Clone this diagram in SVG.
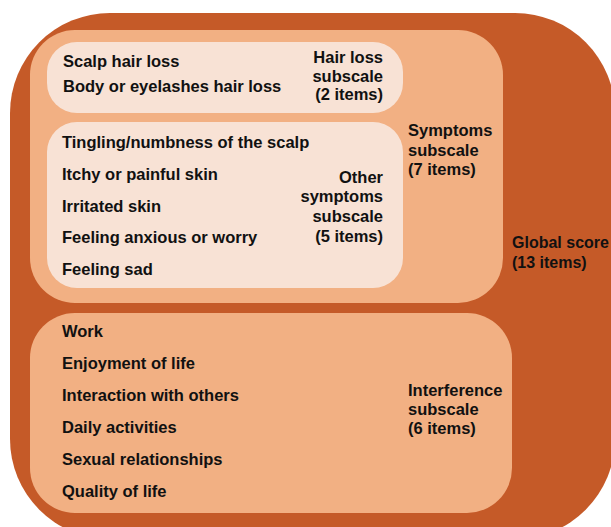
<svg xmlns="http://www.w3.org/2000/svg" width="611" height="527" viewBox="0 0 611 527">
<style>
text{font-family:"Liberation Sans",Arial,Helvetica,sans-serif;font-weight:bold;font-size:16.5px;fill:#111}
.r{text-anchor:end}
.g{font-size:16px}
.outer{fill:#C55A28}
.mid{fill:#F2B083}
.inner{fill:#F8E2D5}
</style>
<g id="global">
<rect class="outer" x="10" y="13" width="605" height="526" rx="100" ry="100"/>
<text class="g" x="512" y="248">Global score</text>
<text class="g" x="512" y="268">(13 items)</text>
</g>
<g id="symptoms">
<rect class="mid" x="30" y="30" width="473" height="273" rx="45" ry="45"/>
<text x="408" y="136">Symptoms</text>
<text x="408" y="156">subscale</text>
<text x="408" y="175">(7 items)</text>
</g>
<g id="hairloss">
<rect class="inner" x="47" y="42" width="356" height="71" rx="30" ry="30"/>
<text x="63" y="67">Scalp hair loss</text>
<text x="63" y="92">Body or eyelashes hair loss</text>
<text class="r" x="383" y="63">Hair loss</text>
<text class="r" x="383" y="82">subscale</text>
<text class="r" x="383" y="100">(2 items)</text>
</g>
<g id="other">
<rect class="inner" x="47" y="122" width="356" height="166" rx="30" ry="30"/>
<text x="62" y="148">Tingling/numbness of the scalp</text>
<text x="62" y="180">Itchy or painful skin</text>
<text x="62" y="212">Irritated skin</text>
<text x="62" y="243">Feeling anxious or worry</text>
<text x="62" y="275">Feeling sad</text>
<text class="r" x="383" y="183">Other</text>
<text class="r" x="383" y="202">symptoms</text>
<text class="r" x="383" y="222">subscale</text>
<text class="r" x="383" y="242">(5 items)</text>
</g>
<g id="interference">
<rect class="mid" x="30" y="313" width="482" height="200" rx="45" ry="45"/>
<text x="62" y="337">Work</text>
<text x="62" y="369">Enjoyment of life</text>
<text x="62" y="401">Interaction with others</text>
<text x="62" y="433">Daily activities</text>
<text x="62" y="465">Sexual relationships</text>
<text x="62" y="497">Quality of life</text>
<text x="408" y="396">Interference</text>
<text x="408" y="415">subscale</text>
<text x="408" y="434">(6 items)</text>
</g>
<g id="connectors"/>
</svg>
